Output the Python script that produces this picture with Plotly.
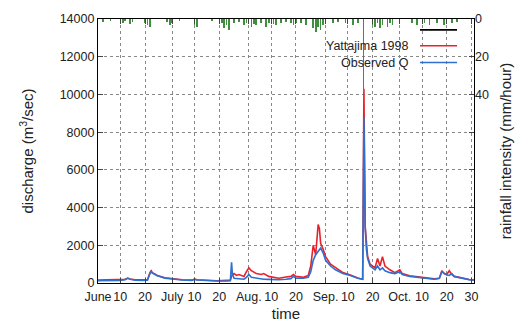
import plotly.graph_objects as go

# ---- data (day offset from June 1, 1998) ----
q_day = [0, 3, 6, 9, 11, 12, 13, 15, 18, 20, 21, 21.5, 22, 24, 27, 30, 34, 38, 39, 40, 44, 48, 52,
         53.5, 54, 54.3, 55, 56, 57, 59, 60, 61, 62, 64, 66, 67, 69, 71, 73, 76, 78, 79, 80, 83, 85,
         86, 87, 88, 89, 89.5, 90, 91, 92, 94, 96, 99, 102, 105, 107, 107.5, 108, 108.5, 109, 110,
         112, 113, 114, 115, 116, 118, 120, 122, 123, 126, 130, 134, 136, 138, 139, 140, 141, 142,
         143, 144, 147, 150, 152]
q_obs = [120, 130, 120, 140, 180, 250, 200, 150, 140, 150, 500, 600, 520, 380, 260, 200, 160, 140, 200, 160, 130, 110, 110,
         120, 1100, 500, 250, 230, 220, 200, 300, 450, 300, 250, 220, 200, 190, 180, 170, 200, 230, 350, 260, 250, 300,
         600, 1200, 1500, 1700, 1800, 1850, 1600, 1200, 900, 700, 500, 400, 250, 200, 8800, 3000, 1800, 1300, 900,
         700, 900, 700, 800, 650, 550, 500, 600, 450, 350, 300, 220, 200, 250, 600, 500, 420, 400,
         500, 350, 250, 180, 150]
q_sim = [150, 160, 150, 170, 200, 260, 210, 170, 170, 170, 550, 650, 550, 400, 280, 220, 170, 150, 210, 170, 140, 120, 140,
         150, 350, 420, 500, 400, 450, 350, 600, 800, 650, 500, 450, 500, 350, 300, 250, 320, 350, 450, 350, 300, 400,
         900, 2000, 1500, 3100, 2900, 2100, 1800, 1400, 1000, 800, 550, 420, 260, 200, 10300, 3000, 1900, 1400, 1000,
         800, 1300, 900, 1400, 900, 700, 550, 700, 500, 380, 320, 230, 220, 250, 650, 500, 450, 650,
         450, 350, 260, 190, 160]

rain_day = [2, 5, 10, 11, 13, 14, 19, 20, 21, 28, 29, 30, 33, 39, 40, 46, 50, 51, 52, 53, 55, 57, 59, 60,
            62, 63, 64, 66, 68, 69, 71, 72, 74, 76, 78, 79, 80, 82, 84, 87, 88, 89, 90, 91, 92, 95, 97,
            100, 103, 105, 107.3, 111, 112, 113, 114, 115, 117, 118, 119, 127, 129, 132, 134, 137, 140, 143, 145]
rain_mm = [1.5, 1, 2, 1, 2.5, 1.5, 2, 3, 4, 1.5, 3, 2, 1, 3, 4, 1, 2, 5, 3, 6, 2, 1.5, 3, 2,
           4, 2.5, 3, 2, 4, 2, 2.5, 3, 2, 1.5, 2, 3, 2, 2, 3, 5, 7, 4, 6, 3, 2, 2, 1.5,
           2, 3, 2, 37, 3, 4, 2, 5, 3, 4, 2, 3, 2, 3, 2, 3, 2, 3, 2, 1.5]

tick_days = [0, 9, 19, 30, 39, 49, 61, 70, 80, 92, 101, 111, 122, 131, 141, 151]
tick_text = ["June", "10", "20", "July", "10", "20", "Aug.", "10", "20", "Sep.", "10", "20", "Oct.", "10", "20", "30"]

y_ticks = [0, 2000, 4000, 6000, 8000, 10000, 12000, 14000]
y_text = ["0", "2000", "4000", "6000", "8000", "10000", "12000", "14000"]
r_ticks = [0, 20, 40, 60, 80, 100, 120, 140]
r_text = ["0", "20", "40", "", "", "", "", ""]

RED = "#e8222c"
BLUE = "#2f6fd0"
GREEN = "#3f8f3f"

fig = go.Figure()
fig.add_trace(go.Bar(x=rain_day, y=rain_mm, yaxis="y2", width=0.3,
                     marker=dict(color=GREEN, line=dict(width=0)), showlegend=False))
fig.add_trace(go.Scatter(x=q_day, y=q_sim, mode="lines", line=dict(color=RED, width=1.6), showlegend=False))
fig.add_trace(go.Scatter(x=q_day, y=q_obs, mode="lines", line=dict(color=BLUE, width=1.6), showlegend=False))

font = dict(family="Liberation Sans, Arial, sans-serif", size=12.5, color="#222")

fig.update_layout(
    width=526, height=336,
    margin=dict(l=98, r=52, t=16, b=53),
    paper_bgcolor="white", plot_bgcolor="white",
    font=font,
    bargap=0,
    xaxis=dict(range=[0, 152], tickvals=tick_days, ticktext=tick_text, tickangle=0,
               ticks="inside", ticklen=5, ticklabelstandoff=2,
               showline=True, linecolor="black", linewidth=1.2, mirror="ticks",
               showgrid=True, gridcolor="#888", griddash="dot", gridwidth=1, zeroline=False,
               title=dict(text="time", standoff=5)),
    yaxis=dict(range=[0, 14000], tickvals=y_ticks, ticktext=y_text, ticks="inside", ticklen=5,
               showline=True, linecolor="black", linewidth=1.2, mirror=True,
               showgrid=True, gridcolor="#888", griddash="dot", gridwidth=1, zeroline=False,
               title=dict(text="discharge (m<sup>3</sup>/sec)", standoff=22)),
    yaxis2=dict(range=[140, 0], overlaying="y", side="right", tickvals=r_ticks, ticktext=r_text,
                ticks="inside", ticklen=5, showgrid=False, zeroline=False, showline=False,
                title=dict(text="rainfall intensity (mm/hour)", standoff=12)),
)

# legend (drawn manually, gnuplot style: text on the left, sample on the right)
def px_x(p):
    return (p - 98) / 376.0

def px_y(p):
    return (283 - p) / 267.0

legend_items = [("", "black", 27), ("Yattajima 1998", RED, 43), ("Observed Q", BLUE, 60)]
for label, col, yy in legend_items:
    fig.add_shape(type="line", xref="paper", yref="paper", x0=px_x(420), x1=px_x(457),
                  y0=px_y(yy), y1=px_y(yy), line=dict(color=col, width=1.6))
    if label:
        fig.add_annotation(xref="paper", yref="paper", x=px_x(411), y=px_y(yy), text=label,
                           showarrow=False, xanchor="right", yanchor="middle", font=font,
                           bgcolor="rgba(255,255,255,0)")

fig.write_html("out.html")
